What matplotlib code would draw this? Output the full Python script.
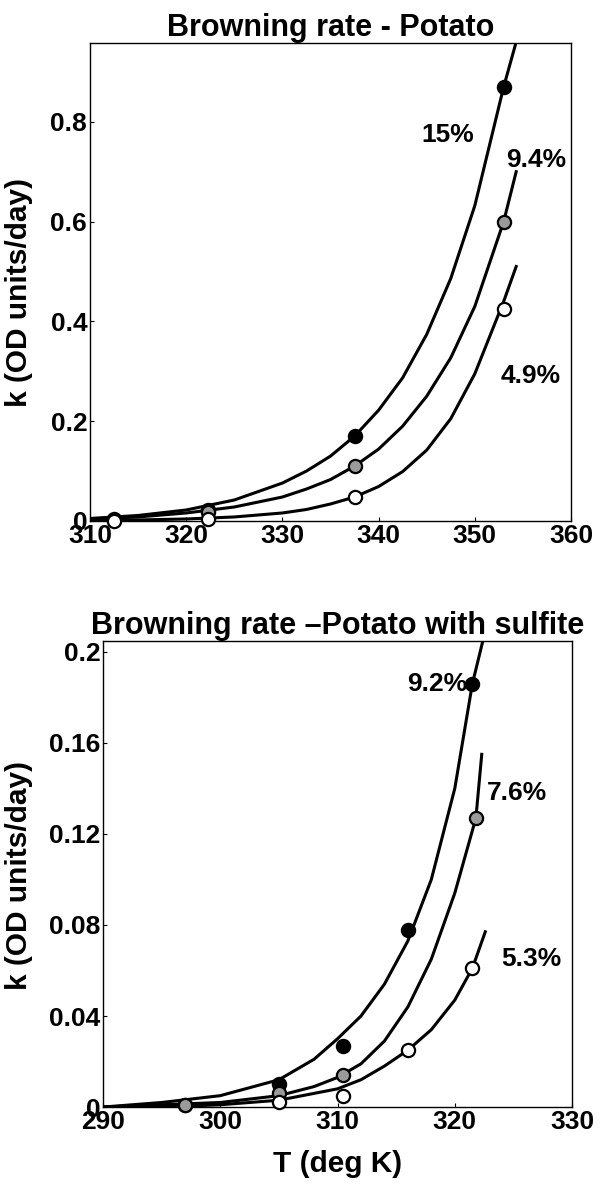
import matplotlib
matplotlib.use("Agg")
import matplotlib.pyplot as plt

plt.rcParams['font.family'] = ['Liberation Sans', 'DejaVu Sans']
plt.rcParams['font.weight'] = 'bold'

# --- Potato (top panel) ---
pot_T_pts = [312.5, 322.3, 337.5, 353.0]
pot_15_pts = [0.003, 0.022, 0.170, 0.870]
pot_94_pts = [0.002, 0.018, 0.110, 0.600]
pot_49_pts = [0.000, 0.004, 0.048, 0.425]

pot_curve_T = [310, 315, 320, 325, 330, 332.5, 335, 337.5, 340, 342.5, 345, 347.5, 350, 353, 354.3]
pot_15_curve = [0.005, 0.011, 0.022, 0.042, 0.076, 0.100, 0.130, 0.170, 0.222, 0.287, 0.374, 0.486, 0.632, 0.870, 0.960]
pot_94_curve = [0.004, 0.008, 0.016, 0.028, 0.048, 0.064, 0.083, 0.110, 0.144, 0.190, 0.250, 0.327, 0.430, 0.600, 0.700]
pot_49_curve = [0.001, 0.002, 0.004, 0.008, 0.016, 0.023, 0.034, 0.048, 0.069, 0.099, 0.142, 0.205, 0.295, 0.440, 0.510]

# --- Potato with sulfite (bottom panel) ---
sul_92_T = [297.0, 305.0, 310.5, 316.0, 321.5]
sul_92_k = [0.001, 0.010, 0.027, 0.078, 0.186]
sul_76_T = [297.0, 305.0, 310.5, 321.8]
sul_76_k = [0.001, 0.006, 0.014, 0.127]
sul_53_T = [305.0, 310.5, 316.0, 321.5]
sul_53_k = [0.002, 0.005, 0.025, 0.061]

sul_92_cT = [290, 295, 300, 305, 308, 310, 312, 314, 316, 318, 320, 321.5, 322.4]
sul_92_c = [0.000, 0.002, 0.005, 0.012, 0.021, 0.030, 0.040, 0.054, 0.073, 0.100, 0.140, 0.186, 0.205]
sul_76_cT = [290, 295, 300, 305, 308, 310, 312, 314, 316, 318, 320, 321.8, 322.3]
sul_76_c = [0.000, 0.001, 0.002, 0.005, 0.009, 0.013, 0.019, 0.029, 0.044, 0.065, 0.094, 0.127, 0.155]
sul_53_cT = [290, 295, 300, 305, 308, 310, 312, 314, 316, 318, 320, 321.5, 322.6]
sul_53_c = [0.000, 0.000, 0.001, 0.003, 0.006, 0.008, 0.012, 0.018, 0.025, 0.034, 0.047, 0.061, 0.077]

FS = 19      # tick labels and curve tags
FS_T = 22    # titles
FS_L = 21.5  # axis labels
fig = plt.figure(figsize=(6, 11.84), dpi=100)


def style(ax):
    for s in ax.spines.values():
        s.set_linewidth(1.0)
    ax.tick_params(direction='in', length=3, width=0.8, labelsize=FS, pad=2)


def marks(ax, T, k, face):
    ax.plot(T, k, 'o', ms=9.5, mfc=face, mec='black', mew=1.6, zorder=3, clip_on=False)


# top panel
ax1 = fig.add_axes([0.15, 0.56, 0.8017, 0.4037])
style(ax1)
for c in (pot_15_curve, pot_94_curve, pot_49_curve):
    ax1.plot(pot_curve_T, c, color='black', lw=2.2)
marks(ax1, pot_T_pts, pot_15_pts, 'black')
marks(ax1, pot_T_pts, pot_94_pts, '#9a9a9a')
marks(ax1, pot_T_pts, pot_49_pts, 'white')
ax1.set_xlim(310, 360)
ax1.set_ylim(0, 0.958)
ax1.set_xticks([310, 320, 330, 340, 350, 360])
ax1.set_yticks([0, 0.2, 0.4, 0.6, 0.8])
ax1.set_yticklabels(['0', '0.2', '0.4', '0.6', '0.8'])
ax1.set_title('Browning rate - Potato', fontsize=FS_T, fontweight='bold', pad=5)
ax1.set_ylabel('k (OD units/day)', fontsize=FS_L, fontweight='bold')
ax1.yaxis.set_label_coords(-0.118, 0.477)
ax1.text(347.2, 0.774, '15%', fontsize=FS, ha='center', va='center')
ax1.text(356.4, 0.724, '9.4%', fontsize=FS, ha='center', va='center')
ax1.text(355.8, 0.29, '4.9%', fontsize=FS, ha='center', va='center')

# bottom panel
ax2 = fig.add_axes([0.1717, 0.065, 0.7817, 0.394])
style(ax2)
ax2.plot(sul_92_cT, sul_92_c, color='black', lw=2.2)
ax2.plot(sul_76_cT, sul_76_c, color='black', lw=2.2)
ax2.plot(sul_53_cT, sul_53_c, color='black', lw=2.2)
marks(ax2, sul_92_T, sul_92_k, 'black')
marks(ax2, sul_76_T, sul_76_k, '#9a9a9a')
marks(ax2, sul_53_T, sul_53_k, 'white')
ax2.set_xlim(290, 330)
ax2.set_ylim(0, 0.205)
ax2.set_xticks([290, 300, 310, 320, 330])
ax2.set_yticks([0, 0.04, 0.08, 0.12, 0.16, 0.2])
ax2.set_yticklabels(['0', '0.04', '0.08', '0.12', '0.16', '0.2'])
ax2.set_title('Browning rate \u2013Potato with sulfite', fontsize=FS_T, fontweight='bold', pad=5)
ax2.set_ylabel('k (OD units/day)', fontsize=FS_L, fontweight='bold')
ax2.yaxis.set_label_coords(-0.149, 0.497)
ax2.set_xlabel('T (deg K)', fontsize=FS_L, fontweight='bold', labelpad=12)
ax2.text(318.5, 0.186, '9.2%', fontsize=FS, ha='center', va='center')
ax2.text(325.3, 0.138, '7.6%', fontsize=FS, ha='center', va='center')
ax2.text(326.5, 0.065, '5.3%', fontsize=FS, ha='center', va='center')

fig.savefig('out.png', dpi=100)
